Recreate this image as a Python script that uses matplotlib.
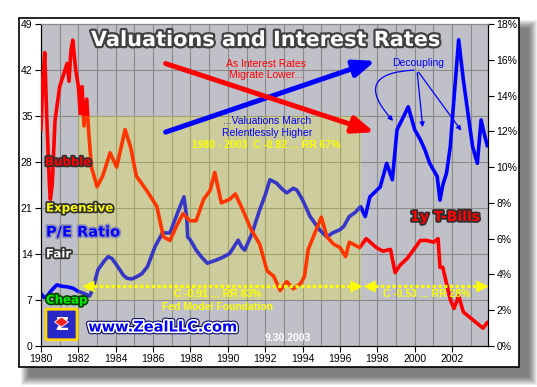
import matplotlib
matplotlib.use("Agg")
import matplotlib.pyplot as plt
import matplotlib.patheffects as pe
from matplotlib.patches import Rectangle, FancyArrowPatch, FancyBboxPatch, RegularPolygon
from matplotlib.ticker import FuncFormatter

# S&P 500 P/E ratio (left axis)
pe_years = [1980.0, 1980.15, 1980.3, 1980.6, 1980.85, 1981.1, 1981.4, 1981.7, 1982.0, 1982.3,
            1982.6, 1982.75, 1983.05, 1983.4, 1983.6, 1983.8, 1984.1, 1984.4, 1984.6, 1984.85,
            1985.1, 1985.4, 1985.7, 1986.1, 1986.5, 1986.9, 1987.3, 1987.65, 1987.8, 1987.85,
            1988.0, 1988.3, 1988.6, 1988.9, 1989.4, 1989.8, 1990.1, 1990.55, 1990.75, 1990.9,
            1991.3, 1991.7, 1992.0, 1992.25, 1992.6, 1992.9, 1993.15, 1993.5, 1993.7, 1994.0,
            1994.4, 1994.9, 1995.3, 1995.6, 1996.0, 1996.2, 1996.5, 1996.8, 1997.1, 1997.35,
            1997.6, 1998.15, 1998.5, 1998.8, 1999.05, 1999.4, 1999.65, 2000.0, 2000.3, 2000.55,
            2000.8, 2001.2, 2001.35, 2001.5, 2001.7, 2001.9, 2002.15, 2002.35, 2002.6, 2002.95,
            2003.1, 2003.35, 2003.55, 2003.7, 2003.88]
pe_values = [8.0, 7.4, 7.5, 8.6, 9.3, 9.1, 9.0, 8.8, 8.3, 8.0,
             7.6, 8.5, 11.6, 13.0, 13.6, 13.3, 12.1, 10.8, 10.3, 10.2,
             10.5, 11.0, 12.1, 15.1, 17.2, 17.2, 20.2, 22.7, 19.5, 16.6,
             16.1, 14.6, 13.5, 12.6, 13.1, 13.6, 14.1, 16.1, 15.0, 14.6,
             17.2, 20.7, 23.0, 25.3, 24.8, 23.9, 23.3, 24.0, 23.7, 22.2,
             19.7, 17.7, 16.6, 17.2, 17.7, 18.2, 19.7, 20.3, 21.2, 19.7,
             22.7, 24.2, 27.8, 25.3, 32.9, 34.9, 36.4, 32.9, 31.4, 29.8,
             27.8, 25.8, 22.2, 24.5, 26.3, 30.3, 39.5, 46.6, 40.5, 33.3,
             30.3, 27.8, 34.4, 32.5, 30.5]

# 1y T-Bill yield in % (right axis)
tb_years = [1980.0, 1980.1, 1980.2, 1980.3, 1980.45, 1980.5, 1980.6, 1980.75, 1981.0, 1981.4,
            1981.5, 1981.6, 1981.7, 1981.85, 1982.0, 1982.1, 1982.2, 1982.3, 1982.45, 1982.55,
            1982.7, 1983.0, 1983.3, 1983.7, 1984.05, 1984.5, 1984.8, 1985.1, 1985.65, 1986.2,
            1986.55, 1986.9, 1987.25, 1987.6, 1987.97, 1988.3, 1988.7, 1989.05, 1989.3, 1989.65,
            1990.1, 1990.4, 1990.8, 1991.25, 1991.7, 1992.1, 1992.45, 1992.8, 1993.15, 1993.5,
            1993.9, 1994.1, 1994.3, 1994.65, 1995.0, 1995.3, 1995.65, 1996.0, 1996.3, 1996.5,
            1997.05, 1997.4, 1997.95, 1998.3, 1998.7, 1998.95, 1999.2, 1999.6, 1999.95, 2000.3,
            2000.65, 2001.0, 2001.25, 2001.35, 2001.5, 2001.7, 2001.9, 2002.1, 2002.35, 2002.6,
            2002.95, 2003.3, 2003.65, 2003.88]
tb_values = [12.1, 15.0, 16.4, 13.0, 9.0, 8.2, 9.0, 12.6, 14.5, 15.8,
             14.8, 16.5, 17.1, 15.5, 14.5, 13.0, 14.5, 12.3, 13.8, 12.0,
             10.0, 8.9, 9.5, 10.8, 10.0, 12.1, 11.1, 9.5, 8.7, 7.8,
             6.1, 5.9, 6.7, 7.4, 7.0, 7.0, 8.2, 8.7, 9.7, 8.0,
             8.2, 8.5, 7.6, 6.5, 5.7, 4.2, 3.9, 3.1, 3.6, 3.2,
             3.5, 3.9, 5.4, 6.3, 7.2, 6.1, 5.7, 5.5, 5.0, 5.8,
             5.5, 6.0, 5.5, 5.3, 5.4, 4.1, 4.5, 4.9, 5.4, 5.9,
             5.9, 5.8, 6.0, 4.4, 4.4, 3.5, 2.6, 2.1, 2.8, 1.9,
             1.6, 1.3, 1.0, 1.3]

pe_ticks = [0, 7, 14, 21, 28, 35, 42, 49]
rate_ticks = [0, 2, 4, 6, 8, 10, 12, 14, 16, 18]
year_ticks = [1980, 1982, 1984, 1986, 1988, 1990, 1992, 1994, 1996, 1998, 2000, 2002]
year_grid = [1980, 1981, 1982, 1983, 1984, 1985, 1986, 1987, 1988, 1989, 1990, 1991,
             1992, 1993, 1994, 1995, 1996, 1997, 1998, 1999, 2000, 2001, 2002, 2003]

W, H = 537, 387


def fx(x):
    return x / W


def fy(y):
    return 1 - y / H


plt.rcParams['font.family'] = ['Liberation Sans', 'DejaVu Sans']
fig = plt.figure(figsize=(W / 100, H / 100), dpi=100)
fig.patch.set_facecolor('white')

# Drop shadow and frame
for d in range(9):
    fig.patches.append(Rectangle((fx(29 - d), fy(377 + d)), (500 + 2 * d) / W, (349 + 2 * d) / H,
                                 transform=fig.transFigure, facecolor='black', alpha=0.07,
                                 edgecolor='none', zorder=-3))
fig.patches.append(Rectangle((fx(19), fy(367)), 500 / W, 349 / H, transform=fig.transFigure,
                             facecolor='white', edgecolor='black', lw=1.2, zorder=-2))

ax = fig.add_axes([fx(41), fy(346), 447 / W, 322 / H])
ax.set_facecolor('#C0C0C8')
ax.set_xlim(1980, 2003.92)
ax.set_ylim(0, 49)
ax.set_yticks(pe_ticks)
ax.set_xticks(year_ticks)
ax.set_xticks(year_grid, minor=True)
ax.grid(True, which='both', axis='x', color='#8a8a8a', lw=0.8)
ax.grid(True, which='major', axis='y', color='#8a8a8a', lw=0.8)
ax.set_axisbelow(True)
ax.tick_params(which='minor', length=0)
ax.tick_params(which='major', direction='out', length=4, labelsize=7.5, pad=2)

ax.plot(pe_years, pe_values, color='#0000FF', lw=2.6, zorder=3)

ax2 = ax.twinx()
ax2.set_ylim(0, 18)
ax2.set_yticks(rate_ticks)
ax2.yaxis.set_major_formatter(FuncFormatter(lambda v, p: '%d%%' % v))
ax2.tick_params(direction='out', length=4, labelsize=7.5, pad=2)
ax2.plot(tb_years, tb_values, color='#FF0000', lw=2.6, zorder=3)

for a in (ax, ax2):
    a.spines['top'].set_color('#8a8a8a')

# Translucent "fed model" box on top of the lines
ax2.add_patch(Rectangle((1982.0, 7), 15.1, 28, transform=ax.transData,
                        facecolor=(0.98, 0.98, 0.0), alpha=0.22, edgecolor='none', zorder=5))

# Dotted yellow arrows
yellow = '#FFFF00'
for x0, x1 in [(1982.51, 1996.86), (1997.56, 2003.61)]:
    ax2.plot([x0, x1], [3.35, 3.35], color=yellow, lw=2.3, dashes=(1, 0.8), zorder=6,
             solid_capstyle='butt')
    ax2.plot([x0], [3.35], marker='<', ms=9, color=yellow, mec='none', zorder=6, clip_on=False)
    ax2.plot([x1], [3.35], marker='>', ms=9, color=yellow, mec='none', zorder=6, clip_on=False)

# Big trend arrows
fig.add_artist(FancyArrowPatch((fx(163), fy(133)), (fx(378), fy(60)), transform=fig.transFigure,
                               arrowstyle='-|>,head_length=0.85,head_width=0.34', mutation_scale=15,
                               color='#0000FF', lw=3.6, zorder=5))
fig.add_artist(FancyArrowPatch((fx(163), fy(62.7)), (fx(377), fy(133)), transform=fig.transFigure,
                               arrowstyle='-|>,head_length=0.85,head_width=0.34', mutation_scale=15,
                               color='#FF0000', lw=3.6, zorder=5))

# Decoupling arrows
start = (fx(417), fy(70))
fig.add_artist(FancyArrowPatch(start, (fx(395), fy(123)), transform=fig.transFigure,
                               connectionstyle='arc3,rad=1.1', arrowstyle='-|>', mutation_scale=7,
                               color='#0000FF', lw=0.9, zorder=5))
for end in [(fx(423), fy(130)), (fx(463), fy(133))]:
    fig.add_artist(FancyArrowPatch(start, end, transform=fig.transFigure,
                                   arrowstyle='-|>', mutation_scale=7,
                                   color='#0000FF', lw=0.9, zorder=5))

# Title
fig.text(fx(266), fy(40), 'Valuations and Interest Rates', ha='center', va='center',
         fontsize=15, fontweight='bold', family='DejaVu Sans', color='white',
         path_effects=[pe.withStroke(linewidth=3.2, foreground='#404040')])

# Annotation texts
fig.text(fx(266), fy(69.5), 'As Interest Rates\nMigrate Lower...', ha='center', va='center',
         fontsize=7.5, color='#FF0000', linespacing=1.15)
fig.text(fx(267), fy(127), '...Valuations March\nRelentlessly Higher', ha='center', va='center',
         fontsize=7.5, color='#0000FF', linespacing=1.15)
fig.text(fx(266.5), fy(145), '1980 - 2003  C -0.82 ... RR 67%', ha='center', va='center',
         fontsize=7.5, fontweight='bold', color=yellow)
fig.text(fx(418), fy(63), 'Decoupling', ha='center', va='center', fontsize=7.5, color='#0000FF')
fig.text(fx(218), fy(294), 'C -0.91 ... RR 83%', ha='center', va='center',
         fontsize=7.5, fontweight='bold', color=yellow)
fig.text(fx(218), fy(307), 'Fed Model Foundation', ha='center', va='center',
         fontsize=7.5, fontweight='bold', color=yellow)
fig.text(fx(427), fy(294), 'C -0.53 ... RR 28%', ha='center', va='center',
         fontsize=7.5, fontweight='bold', color=yellow)
fig.text(fx(288), fy(338), '9.30.2003', ha='center', va='center',
         fontsize=7.5, fontweight='bold', color='white')

# Outlined labels
dark = [pe.withStroke(linewidth=2.5, foreground='#303030')]
fig.text(fx(445), fy(217), '1y T-Bills', ha='center', va='center', fontsize=10,
         fontweight='bold', family='DejaVu Sans', color='#FF0000', path_effects=dark)
fig.text(fx(45), fy(162), 'Bubble', ha='left', va='center', fontsize=8.5,
         fontweight='bold', family='DejaVu Sans', color='#FF0000', path_effects=dark)
fig.text(fx(46), fy(208), 'Expensive', ha='left', va='center', fontsize=8.5,
         fontweight='bold', family='DejaVu Sans', color=yellow, path_effects=dark)
fig.text(fx(46), fy(232), 'P/E Ratio', ha='left', va='center', fontsize=10.5,
         fontweight='bold', family='DejaVu Sans', color='#0000FF',
         path_effects=[pe.withStroke(linewidth=2.5, foreground='#9090B0')])
fig.text(fx(46), fy(254), 'Fair', ha='left', va='center', fontsize=8.5,
         fontweight='bold', family='DejaVu Sans', color='white', path_effects=dark)
fig.text(fx(46), fy(300), 'Cheap', ha='left', va='center', fontsize=8.5,
         fontweight='bold', family='DejaVu Sans', color='#00EE00',
         path_effects=[pe.withStroke(linewidth=2.5, foreground='#004000')])
fig.text(fx(163), fy(327), 'www.ZealLLC.com', ha='center', va='center', fontsize=10.5,
         fontweight='bold', family='DejaVu Sans', color='#0000FF',
         path_effects=[pe.Stroke(linewidth=4, foreground='#000060'),
                       pe.Stroke(linewidth=2.5, foreground='white'), pe.Normal()])

# Logo box
fig.patches.append(FancyBboxPatch((fx(47), fy(339)), 29 / W, 29 / H, transform=fig.transFigure,
                                  boxstyle='round,pad=0.002', facecolor='#2828C8',
                                  edgecolor='#FFD700', lw=2, zorder=4))
fig.text(fx(61.5), fy(324.5), 'Z', ha='center', va='center', fontsize=13, fontweight='bold',
         family='DejaVu Sans', color='white', zorder=5)
fig.patches.append(RegularPolygon((fx(61.5), fy(322)), numVertices=4, radius=0.013,
                                  transform=fig.transFigure, facecolor='#FF2020',
                                  edgecolor='white', lw=0.6, zorder=6))

fig.savefig('out.png', dpi=100)
